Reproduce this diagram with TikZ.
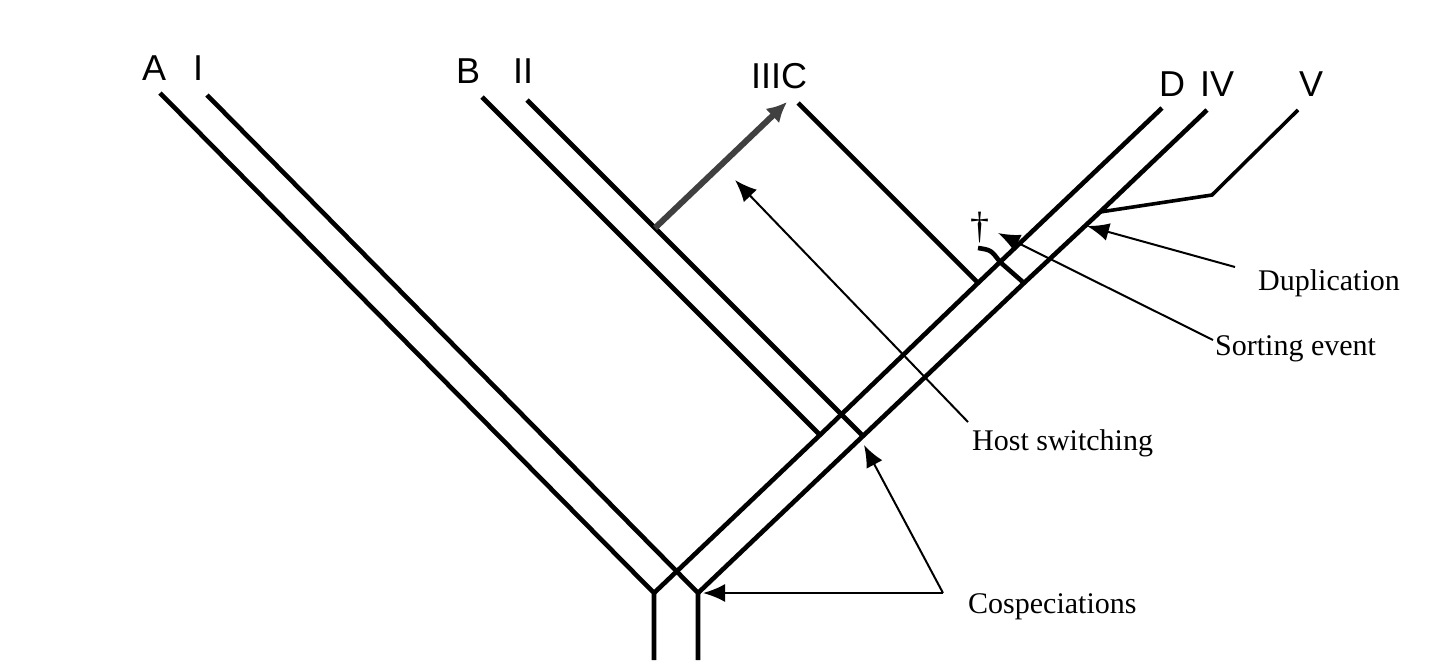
\documentclass[tikz,border=0pt]{standalone}
\usepackage{fontspec}
\setmainfont{Liberation Serif}
\newfontfamily\taxonfont{Liberation Sans}
\usetikzlibrary{arrows.meta}

\tikzset{
  branch/.style={line width=4.6pt},
  event/.style={line width=2pt, -{Latex[length=22pt,width=18pt]}},
  switch/.style={line width=6pt, draw=black!75, -{Latex[length=20pt,width=20pt]}},
  taxon/.style={font=\taxonfont\fontsize{36}{40}\selectfont, inner sep=0pt, anchor=base west},
  lab/.style={font=\fontsize{30}{36}\selectfont, inner sep=0pt, anchor=base west},
}

\begin{document}
\begin{tikzpicture}[x=1pt,y=-1pt]
\useasboundingbox (0,0) rectangle (1451,662);
% host tree
\coordinate (hbot) at (654,660);
\coordinate (hroot) at (654,593);
\coordinate (htA) at (160,93);
\coordinate (hB) at (820,435);
\coordinate (htB) at (482,97);
\coordinate (hC) at (978,283);
\coordinate (htC) at (798,103);
\coordinate (hS) at (1000,262);
\coordinate (htD) at (1162,108);
% parasite tree
\coordinate (pbot) at (698,660);
\coordinate (proot) at (698,593);
\coordinate (ptI) at (207,95);
\coordinate (pII) at (863,436);
\coordinate (ptII) at (527,100);
\coordinate (psw) at (655,228);
\coordinate (ptIII) at (787,102);
\coordinate (pS) at (1024,283);
\coordinate (pDup) at (1100,212);
\coordinate (pV) at (1212,195);
\coordinate (ptIV) at (1207,110);
\coordinate (ptV) at (1298,110);
\coordinate (pX) at (978,248);

\draw[branch] (htA) -- (hroot) -- (hbot);
\draw[branch] (hroot) -- (hB) -- (hC) -- (htD);
\draw[branch] (htB) -- (hB);
\draw[branch] (htC) -- (hC);
%
\draw[branch] (ptI) -- (proot) -- (pbot);
\draw[branch] (proot) -- (pII) -- (pS) -- (pDup) -- (ptIV);
\draw[branch] (ptII) -- (psw) -- (pII);
\draw[branch] (pS) -- (hS) .. controls (991,250) .. (pX);
\draw[branch, line width=3.6pt] (pDup) -- (pV) -- (ptV);
\draw[switch] (psw) -- (ptIII);

% taxa
\node[taxon] (tA) at (142,80) {A};
\node[taxon] (tI) at (193,80) {I};
\node[taxon] (tB) at (456,83) {B};
\node[taxon] (tII) at (513,83) {II};
\node[taxon] (tIIIC) at (751,88) {IIIC};
\node[taxon] (tD) at (1159,96) {D};
\node[taxon] (tIV) at (1200,96) {IV};
\node[taxon] (tV) at (1299,96) {V};
\node[font=\fontsize{38}{40}\selectfont, inner sep=0pt, anchor=base] (dag) at (980,238) {\dag};

% events
\node[lab] (dup) at (1258,290) {Duplication};
\node[lab] (sort) at (1215,355) {Sorting event};
\node[lab] (hsw) at (972,450) {Host switching};
\node[lab] (cosp) at (968,613) {Cospeciations};
\coordinate (dups) at (1235,267);
\coordinate (dupt) at (1087,226);
\coordinate (sorts) at (1213,340);
\coordinate (sortt) at (998,233);
\coordinate (hsws) at (968,422);
\coordinate (hswt) at (735,180);
\coordinate (cospv) at (943,593);
\coordinate (cospa) at (703,593);
\coordinate (cospb) at (864,445);
\draw[event] (dups) -- (dupt);
\draw[event] (sorts) -- (sortt);
\draw[event] (hsws) -- (hswt);
\draw[event] (cospv) -- (cospa);
\draw[event] (cospv) -- (cospb);
\end{tikzpicture}
\end{document}
